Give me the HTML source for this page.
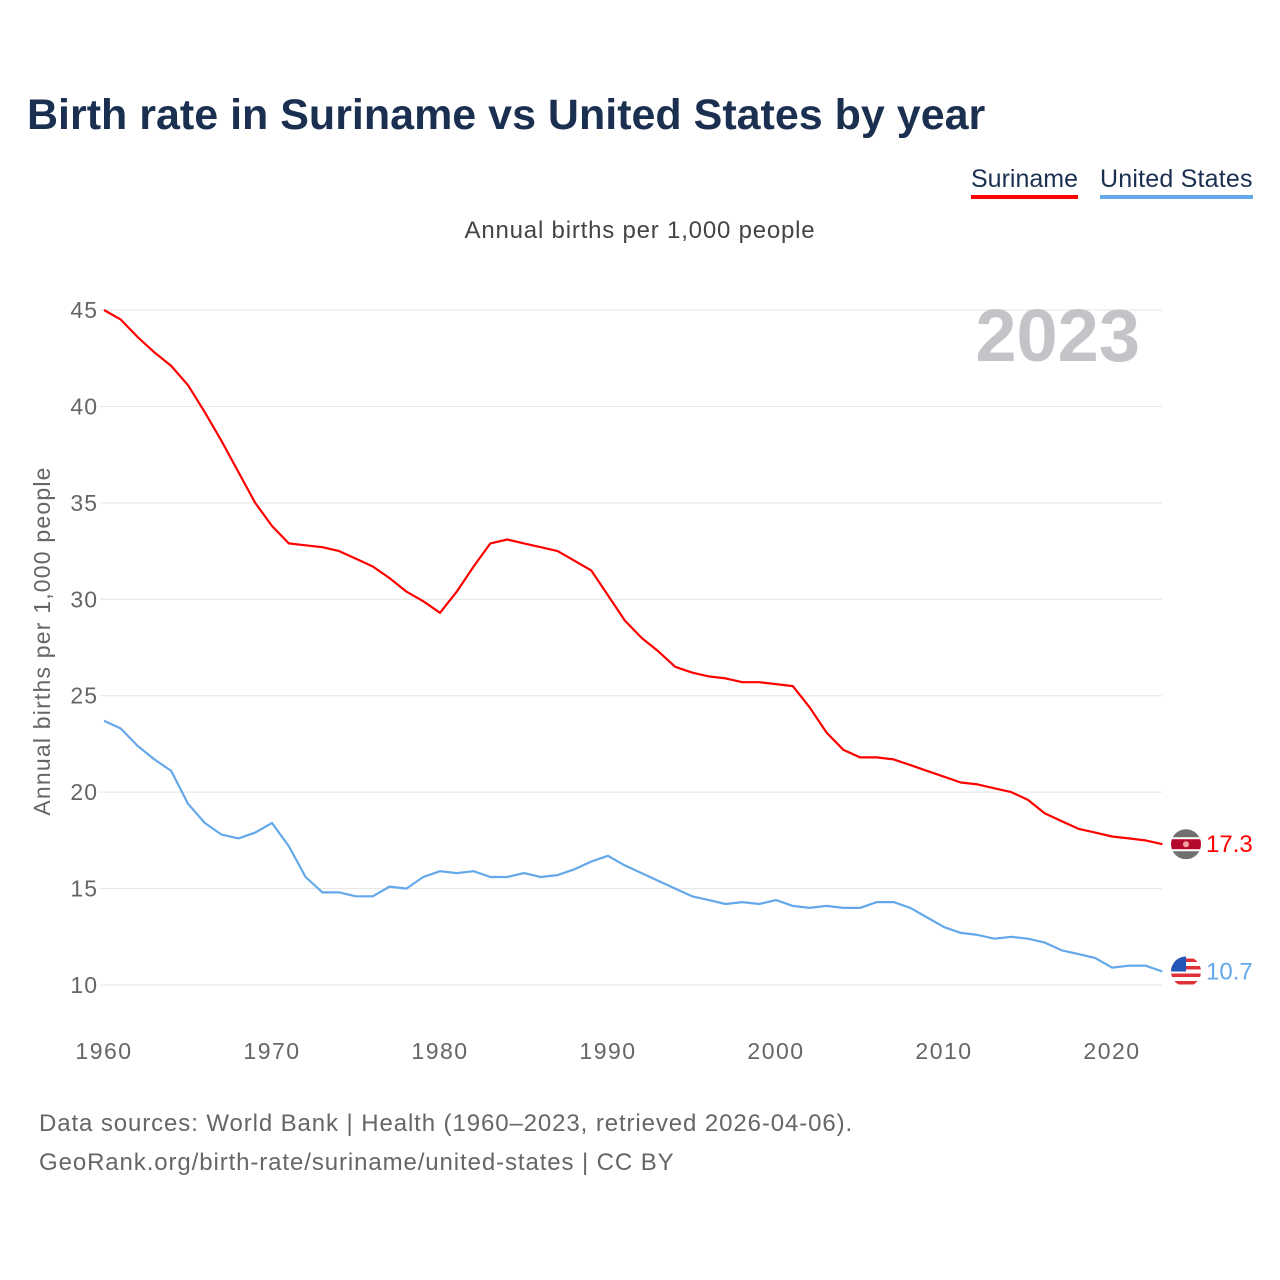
<!DOCTYPE html>
<html><head><meta charset="utf-8">
<style>
body{margin:0;background:#fff;font-family:"Liberation Sans",sans-serif;}
#wrap{position:relative;width:1280px;height:1280px;overflow:hidden;}
.t{position:absolute;white-space:nowrap;}
</style></head>
<body>
<div id="wrap">
<div class="t" style="left:27px;top:91px;font-size:43px;font-weight:bold;color:#1b3050;">Birth rate in Suriname vs United States by year</div>
<div class="t" style="left:971px;top:165px;font-size:25px;color:#1b3050;border-bottom:4px solid #ff0000;padding-bottom:1px;">Suriname</div>
<div class="t" style="left:1100px;top:165px;font-size:25px;color:#1b3050;border-bottom:4px solid #64a8ea;padding-bottom:1px;letter-spacing:0.2px;">United States</div>
<div class="t" style="left:0;width:1280px;text-align:center;top:217px;font-size:24px;letter-spacing:0.8px;color:#444;">Annual births per 1,000 people</div>
<div class="t" style="left:39px;top:1104px;font-size:24px;letter-spacing:0.9px;color:#666;line-height:39px;">Data sources: World Bank | Health (1960–2023, retrieved 2026-04-06).<br>GeoRank.org/birth-rate/suriname/united-states | CC BY</div>
<svg id="chart" width="1280" height="1280" style="position:absolute;left:0;top:0"></svg>
</div>
<script>
const years=[];for(let y=1960;y<=2023;y++)years.push(y);
const suriname=[45.0,44.5,43.6,42.8,42.1,41.1,39.7,38.2,36.6,35.0,33.8,32.9,32.8,32.7,32.5,32.1,31.7,31.1,30.4,29.9,29.3,30.4,31.7,32.9,33.1,32.9,32.7,32.5,32.0,31.5,30.2,28.9,28.0,27.3,26.5,26.2,26.0,25.9,25.7,25.7,25.6,25.5,24.4,23.1,22.2,21.8,21.8,21.7,21.4,21.1,20.8,20.5,20.4,20.2,20.0,19.6,18.9,18.5,18.1,17.9,17.7,17.6,17.5,17.3];
const unitedStates=[23.7,23.3,22.4,21.7,21.1,19.4,18.4,17.8,17.6,17.9,18.4,17.2,15.6,14.8,14.8,14.6,14.6,15.1,15.0,15.6,15.9,15.8,15.9,15.6,15.6,15.8,15.6,15.7,16.0,16.4,16.7,16.2,15.8,15.4,15.0,14.6,14.4,14.2,14.3,14.2,14.4,14.1,14.0,14.1,14.0,14.0,14.3,14.3,14.0,13.5,13.0,12.7,12.6,12.4,12.5,12.4,12.2,11.8,11.6,11.4,10.9,11.0,11.0,10.7];
const yTicks=[10,15,20,25,30,35,40,45];
const xTicks=[1960,1970,1980,1990,2000,2010,2020];
const NS='http://www.w3.org/2000/svg';
const svg=document.getElementById('chart');
const X=y=>104+(y-1960)*16.8;
const Y=v=>985-(v-10)*(675/35);
function el(t,a,p){const e=document.createElementNS(NS,t);for(const k in a)e.setAttribute(k,a[k]);(p||svg).appendChild(e);return e;}
const defs=el('defs',{});
const cp=el('clipPath',{id:'uclip'},defs);
const cp2=el('clipPath',{id:'sclip'},defs);
yTicks.forEach(v=>{
  const g=el('line',{x1:100,x2:1162,y1:Y(v),y2:Y(v),stroke:'#e4e4e4','stroke-width':1});
  
  
  const t=el('text',{x:98,y:Y(v)+8,'text-anchor':'end','font-size':23,'letter-spacing':1,fill:'#666','font-family':'Liberation Sans, sans-serif'});
  t.textContent=v;
  
  
});
xTicks.forEach(v=>{
  const t=el('text',{x:X(v),y:1059,'text-anchor':'middle','font-size':23,'letter-spacing':1.5,fill:'#666','font-family':'Liberation Sans, sans-serif'});
  t.textContent=v;
  
  
});
const yt=el('text',{transform:'translate(50,641) rotate(-90)','text-anchor':'middle','font-size':23,'letter-spacing':1.2,fill:'#666','font-family':'Liberation Sans, sans-serif'});
yt.textContent='Annual births per 1,000 people';


const yr=el('text',{x:1140,y:361,'text-anchor':'end','font-size':74,'font-weight':'bold',fill:'#c4c4c8','font-family':'Liberation Sans, sans-serif'});
yr.textContent='2023';


function line(data,color,name){
  const d=data.map((v,i)=>(i?'L':'M')+X(years[i]).toFixed(1)+','+Y(v).toFixed(1)).join(' ');
  const p=el('path',{d:d,fill:'none',stroke:color,'stroke-width':2.2,'stroke-linejoin':'round'});
  
  
}
line(suriname,'#ff0000','suriname-line');
line(unitedStates,'#64a8ea','united-states-line');
const sv=suriname[suriname.length-1],uv=unitedStates[unitedStates.length-1];
const sy=Y(sv),uy=Y(uv),fx=1186;
el('circle',{cx:fx,cy:uy,r:15},cp);
el('circle',{cx:fx,cy:sy,r:15},cp2);
const sf=el('g',{'clip-path':'url(#sclip)'});


el('rect',{x:fx-15,y:sy-15,width:30,height:30,fill:'#707070'},sf);
el('rect',{x:fx-15,y:sy-7,width:30,height:14,fill:'#fff'},sf);
el('rect',{x:fx-15,y:sy-5,width:30,height:10,fill:'#b40a2d'},sf);
el('circle',{cx:fx,cy:sy,r:3,fill:'#f4a0a0'},sf);
const uf=el('g',{'clip-path':'url(#uclip)'});


el('rect',{x:fx-15,y:uy-15,width:30,height:30,fill:'#fff'},uf);
for(let i=0;i<4;i++)el('rect',{x:fx-15,y:uy-13+i*7.5,width:30,height:3.5,fill:'#e0303a'},uf);
el('rect',{x:fx-15,y:uy-15,width:15,height:15,fill:'#2255b5'},uf);
const st=el('text',{x:1206,y:sy+8,'font-size':24,fill:'#ff0000','font-family':'Liberation Sans, sans-serif'});
st.textContent=sv.toFixed(1);


const ut=el('text',{x:1206,y:uy+8,'font-size':24,fill:'#64a8ea','font-family':'Liberation Sans, sans-serif'});
ut.textContent=uv.toFixed(1);


</script>
</body></html>
